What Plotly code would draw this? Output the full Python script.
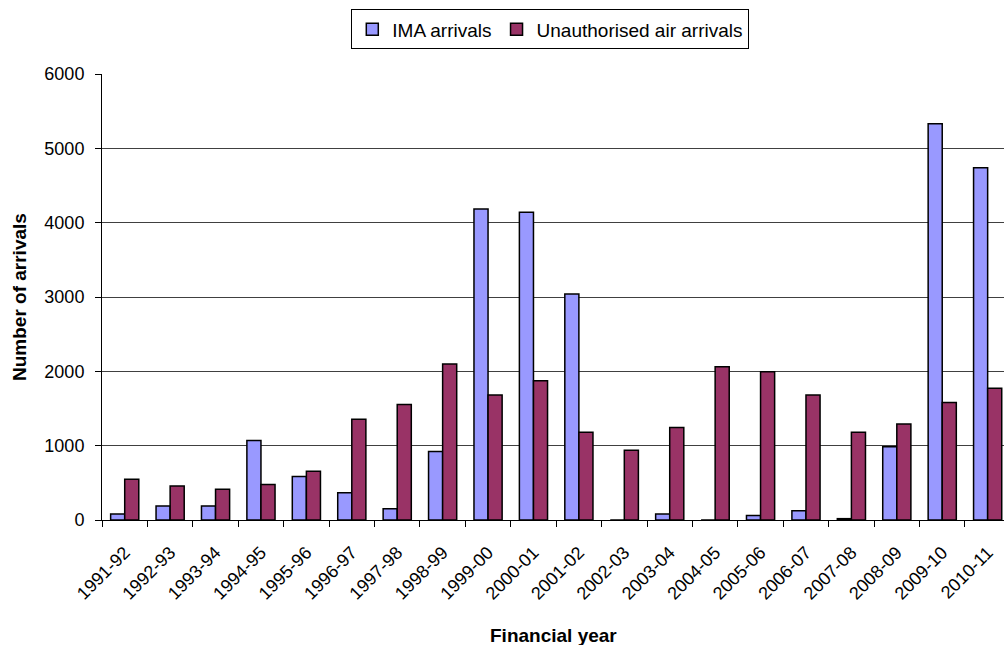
import plotly.graph_objects as go

years = ["1991-92", "1992-93", "1993-94", "1994-95", "1995-96", "1996-97", "1997-98",
         "1998-99", "1999-00", "2000-01", "2001-02", "2002-03", "2003-04", "2004-05",
         "2005-06", "2006-07", "2007-08", "2008-09", "2009-10", "2010-11"]
ima_arrivals = [80, 190, 190, 1070, 585, 365, 150, 920, 4185, 4140, 3040, 0, 80, 0,
                60, 125, 18, 985, 5330, 4740]
air_arrivals = [548, 458, 412, 476, 655, 1355, 1555, 2100, 1680, 1875, 1180, 938, 1243,
                2060, 1995, 1682, 1180, 1292, 1580, 1772]

font = "Liberation Sans, Arial, sans-serif"

fig = go.Figure()
fig.add_trace(go.Bar(x=years, y=ima_arrivals, name="IMA arrivals",
                     marker=dict(color="#9999FF", line=dict(color="black", width=1.5))))
fig.add_trace(go.Bar(x=years, y=air_arrivals, name="Unauthorised air arrivals",
                     marker=dict(color="#993366", line=dict(color="black", width=1.5))))

fig.update_layout(
    width=1004, height=645,
    margin=dict(l=102, r=0, t=74, b=125),
    paper_bgcolor="white", plot_bgcolor="white",
    barmode="group", bargap=0.38, bargroupgap=0,
    font=dict(family=font, size=18, color="black"),
    legend=dict(orientation="h", x=0.497, xanchor="center", y=1.145, yanchor="top",
                bordercolor="black", borderwidth=1, font=dict(size=19),
                itemwidth=30, tracegroupgap=0),
    xaxis=dict(
        type="category",
        range=[-0.5, 19.36], showline=True, linecolor="black", linewidth=1,
        ticks="outside", tickson="boundaries", ticklen=6, tickcolor="black",
        tickangle=-45, tickfont=dict(size=18), ticklabelstandoff=14,
        showgrid=False,
    ),
    yaxis=dict(
        range=[0, 6000], tickvals=[0, 1000, 2000, 3000, 4000, 5000, 6000],
        showline=True, linecolor="black", linewidth=1,
        ticks="outside", ticklen=6, tickcolor="black",
        showgrid=True, gridcolor="#404040", gridwidth=1, zeroline=False,
        tickfont=dict(size=18), ticklabelstandoff=7,
    ),
    annotations=[
        dict(text="<b>Financial year</b>", xref="paper", yref="paper",
             x=0.5, y=-0.258, xanchor="center", yanchor="middle",
             showarrow=False, font=dict(size=19)),
        dict(text="<b>Number of arrivals</b>", xref="paper", yref="paper",
             x=-0.092, y=0.5, xanchor="center", yanchor="middle", textangle=-90,
             showarrow=False, font=dict(size=19)),
    ],
)

fig.write_html("out.html")
